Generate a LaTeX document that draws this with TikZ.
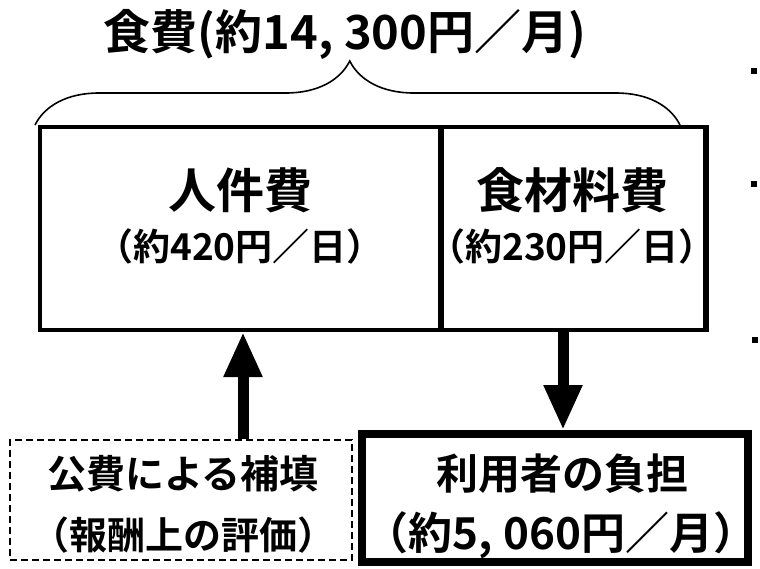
\documentclass[tikz,border=0pt]{standalone}
\usepackage{fontspec}
\setmainfont{Noto Sans CJK JP}
\newfontfamily\jpb{Noto Sans CJK JP Bold}
\usetikzlibrary{arrows.meta,decorations.pathreplacing}
\tikzset{
  cell/.style={draw,line width=4pt,minimum height=203pt,inner sep=0pt},
  txt/.style={inner sep=0pt,font=\jpb},
  bigarrow/.style={line width=11pt,-{Triangle[width=36pt,length=45pt]}},
  dot/.style={fill,inner sep=0pt,minimum size=6pt}
}
\begin{document}
\begin{tikzpicture}[x=1pt,y=-1pt]
\useasboundingbox (0,0) rectangle (760,568);
% main boxes
\node[cell,minimum width=400pt] (lab) at (240,228.5) {};
\node[cell,minimum width=265pt] (food) at (572.5,228.5) {};
% brace
\coordinate (bl) at (35,125);
\coordinate (br) at (680,125);
\draw[line width=1.6pt,decorate,decoration={brace,amplitude=64pt,aspect=0.488}] (bl) -- (br);
\node[txt,font=\jpb\fontsize{47}{49}\selectfont] (title) at (345,34) {食費(約14, 300円／月)};
% texts in main boxes
\node[txt,font=\jpb\fontsize{48}{50}\selectfont] (t1) at (240,190) {人件費};
\node[txt,font=\jpb\fontsize{37}{40}\selectfont] (t2) at (240,246) {（約420円／日）};
\node[txt,font=\jpb\fontsize{48}{50}\selectfont] (t3) at (572,190) {食材料費};
\node[txt,font=\jpb\fontsize{37}{40}\selectfont] (t4) at (572,246) {（約230円／日）};
% redraw divider and right edge over text
\draw[line width=4pt] (lab.north east) -- (lab.south east);
\draw[line width=4pt] (food.north east) -- (food.south east);
% lower boxes
\node[draw,dash pattern=on 7pt off 4pt,line width=1.3pt,minimum width=342pt,minimum height=120pt,inner sep=0pt] (pub) at (181,500) {};
\node[draw,line width=8pt,minimum width=386pt,minimum height=128pt,inner sep=0pt] (user) at (555,498) {};
\node[txt,font=\jpb\fontsize{39}{42}\selectfont] (p1) at (183,474) {公費による補填};
\node[txt,font=\jpb\fontsize{38}{40}\selectfont] (p2) at (183,535) {（報酬上の評価）};
\node[txt,font=\jpb\fontsize{42}{44}\selectfont] (u1) at (562,474) {利用者の負担};
\node[txt,font=\jpb\fontsize{44}{46}\selectfont] (u2) at (561,535) {（約5, 060円／月）};
% arrows
\draw[bigarrow] (pub.north -| 243,0) -- (lab.south -| 243,0);
\draw[bigarrow] (food.south -| 563,0) -- (user.north -| 563,0);
% stray bullet dots
\node[dot] (d1) at (754,71) {};
\node[dot] (d2) at (754,184) {};
\node[dot] (d3) at (755,340) {};
\end{tikzpicture}
\end{document}
